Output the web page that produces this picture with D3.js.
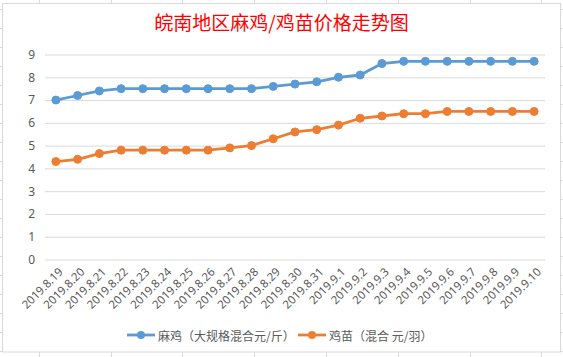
<!DOCTYPE html>
<html><head><meta charset="utf-8">
<script src="https://cdn.jsdelivr.net/npm/d3@7"></script>
<style>html,body{margin:0;padding:0;background:#fff;}svg{display:block;}</style>
</head><body>
<script>
const title = "皖南地区麻鸡/鸡苗价格走势图";
const dates = ["2019.8.19","2019.8.20","2019.8.21","2019.8.22","2019.8.23","2019.8.24","2019.8.25","2019.8.26","2019.8.27","2019.8.28","2019.8.29","2019.8.30","2019.8.31","2019.9.1","2019.9.2","2019.9.3","2019.9.4","2019.9.5","2019.9.6","2019.9.7","2019.9.8","2019.9.9","2019.9.10"];
const seriesNames = ["麻鸡（大规格混合元/斤）","鸡苗（混合 元/羽）"];
const maji = [7.0,7.2,7.4,7.5,7.5,7.5,7.5,7.5,7.5,7.5,7.6,7.7,7.8,8.0,8.1,8.6,8.7,8.7,8.7,8.7,8.7,8.7,8.7];
const jimiao = [4.3,4.4,4.65,4.8,4.8,4.8,4.8,4.8,4.9,5.0,5.3,5.6,5.7,5.9,6.2,6.3,6.4,6.4,6.5,6.5,6.5,6.5,6.5];
const yTicks = [0,1,2,3,4,5,6,7,8,9];
const colors = ["#5B9BD5","#ED7D31"];

const W = 563, H = 357;
const svg = d3.select("body").append("svg").attr("width", W).attr("height", H);

// spreadsheet background grid
const bg = svg.append("g").attr("stroke","#dadada").attr("stroke-width",1);
d3.range(0, 20).forEach(k => {
  const y = Math.round(9.3 + 19 * k) + 0.5;
  bg.append("line").attr("x1",0).attr("x2",W).attr("y1",y).attr("y2",y);
});
d3.range(0, 8).forEach(k => {
  const x = Math.round(38.8 + 71.8 * k) + 0.5;
  bg.append("line").attr("x1",x).attr("x2",x).attr("y1",0).attr("y2",H);
});

// chart area
svg.append("rect").attr("x",2.5).attr("y",3.5).attr("width",558).attr("height",348.5)
  .attr("fill","#fff").attr("stroke","#d9d9d9").attr("stroke-width",1);

// title
svg.append("text").attr("x",281.5).attr("y",30).attr("text-anchor","middle")
  .attr("font-family","'Noto Sans CJK SC'").attr("font-size",19).attr("fill","#ff0000")
  .text(title);

const x = d3.scalePoint().domain(dates).range([45,545]).padding(0.5);
const y = d3.scaleLinear().domain([0,9]).range([259.5,54.5]);

// gridlines
const yAxis = d3.axisLeft(y).tickValues(yTicks).tickSize(-500).tickFormat(d3.format("d"));
const gy = svg.append("g").attr("transform","translate(45,0)").call(yAxis);
gy.select(".domain").remove();
gy.selectAll(".tick line").attr("stroke","#d9d9d9").attr("stroke-width",1);
gy.selectAll(".tick text").attr("x",-10).attr("fill","#595959")
  .attr("font-family","'Noto Sans', sans-serif").attr("font-size",12);

// x axis labels
const xAxis = d3.axisBottom(x).tickSize(0).tickPadding(0);
const gx = svg.append("g").attr("transform","translate(0,259.5)").call(xAxis);
gx.select(".domain").remove();
gx.selectAll(".tick text")
  .attr("font-family","'Noto Sans', sans-serif").attr("font-size",11.5).attr("fill","#595959")
  .attr("text-anchor","end").attr("dy",null).attr("y",null)
  .attr("transform","translate(4,10) rotate(-45)")
  .attr("dominant-baseline","central");

// lines
const data = [maji, jimiao];
const line = d3.line().x((d,i)=>x(dates[i])).y(d=>y(d));
data.forEach((vals, si) => {
  svg.append("path").datum(vals).attr("d", line).attr("fill","none")
    .attr("stroke", colors[si]).attr("stroke-width",2.8).attr("stroke-linejoin","round");
  svg.append("g").selectAll("circle").data(vals).join("circle")
    .attr("cx",(d,i)=>x(dates[i])).attr("cy",d=>y(d)).attr("r",4)
    .attr("fill",colors[si]).attr("stroke",colors[si]).attr("stroke-width",1);
});

// legend
const legendItems = [{x:127, name:seriesNames[0], c:colors[0]},{x:298, name:seriesNames[1], c:colors[1]}];
const ly = 335;
legendItems.forEach(it => {
  const g = svg.append("g");
  g.append("line").attr("x1",it.x).attr("x2",it.x+28).attr("y1",ly).attr("y2",ly)
    .attr("stroke",it.c).attr("stroke-width",2.8);
  g.append("circle").attr("cx",it.x+14).attr("cy",ly).attr("r",4).attr("fill",it.c);
  g.append("text").attr("x",it.x+31).attr("y",ly).attr("dominant-baseline","central")
    .attr("font-family","'Noto Sans CJK SC'").attr("font-size",12).attr("fill","#595959")
    .text(it.name);
});
</script>
</body></html>
